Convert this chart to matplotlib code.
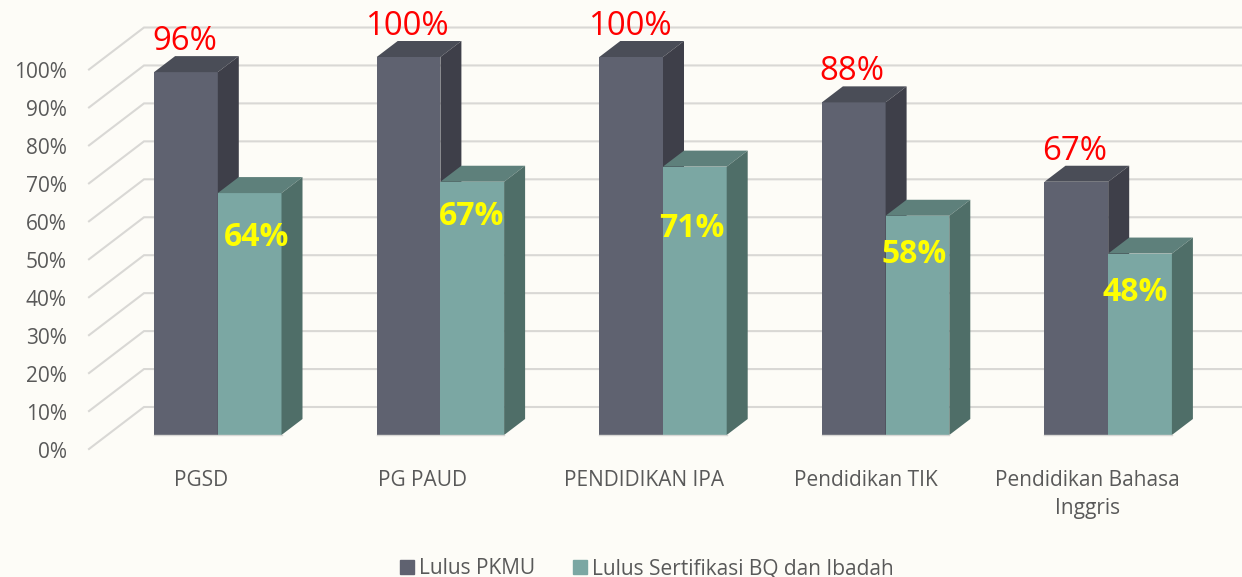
import numpy as np
import matplotlib.pyplot as plt
from matplotlib.patches import Polygon, Patch

plt.rcParams['font.family'] = ['Open Sans', 'DejaVu Sans']

categories = ['PGSD', 'PG PAUD', 'PENDIDIKAN IPA', 'Pendidikan TIK', 'Pendidikan Bahasa\nInggris']
lulus_pkmu = [96, 100, 100, 88, 67]
lulus_bq = [64, 67, 71, 58, 48]
ticks = list(range(0, 101, 10))
series_names = ['Lulus PKMU', 'Lulus Sertifikasi BQ dan Ibadah']

# yellow labels were placed by hand in the original: drop below bar top (percent), shift (px)
yellow_drop = [11.8, 9.3, 16.3, 10.3, 10.3]
yellow_shift = [7, -1, -3, -3.5, -5]

BG = '#FDFCF7'
GRID = '#D9D8D5'
TEXT = '#595959'
DARK = ('#5F6270', '#4A4D57', '#3E3F49')   # front, top, side
TEAL = ('#7BA7A3', '#5E807B', '#4F6E68')

W, H = 1242, 577
STEP = 222.6     # px per category
UNIT = 3.78      # px per percent
X0, Y0 = 217.8, 435  # px of first category, 0%

fig = plt.figure(figsize=(W / 100, H / 100), dpi=100, facecolor=BG)
ax = fig.add_axes([0, 0, 1, 1])
ax.set_xlim(-X0 / STEP, (W - X0) / STEP)
ax.set_ylim((Y0 - H) / UNIT, Y0 / UNIT)
ax.axis('off')

bar_w = 63.7 / STEP
dx = 21 / STEP
dy = 16 / UNIT


def bar3d(x, vals, colors, z):
    ax.bar(x, vals, bar_w, align='edge', color=colors[0], zorder=z)
    for xi, v in zip(x, vals):
        top = [(xi, v), (xi + bar_w, v), (xi + bar_w + dx, v + dy), (xi + dx, v + dy)]
        side = [(xi + bar_w, 0), (xi + bar_w + dx, dy), (xi + bar_w + dx, v + dy), (xi + bar_w, v)]
        ax.add_patch(Polygon(top, color=colors[1], lw=0, zorder=z))
        ax.add_patch(Polygon(side, color=colors[2], lw=0, zorder=z))


# walls: side piece from the tick out to the back plane, then across
wall_x0 = -(X0 - 89) / STEP
wall_x1 = -(X0 - 144) / STEP
front_off = -14 / UNIT
back_off = 28 / UNIT
back_scale = 37.95 / 37.8
for t in ticks:
    yf = t * back_scale + front_off
    yb = t * back_scale + back_off
    ax.plot([wall_x0, wall_x1, ax.get_xlim()[1]], [yf, yb, yb], color=GRID, lw=1.5, zorder=1,
            solid_joinstyle='miter')
    ax.text(wall_x0 - 22 / STEP, yf - 0.8, f'{t}%', ha='right', va='center', fontsize=15, color=TEXT)

x = np.arange(len(categories))
bar3d(x - bar_w, lulus_pkmu, DARK, 2)
bar3d(x, lulus_bq, TEAL, 3)
ax.plot([x - bar_w, x + bar_w], [0, 0], color=GRID, lw=1, zorder=4)

for i, cat in enumerate(categories):
    ax.text(i - (17 + i) / STEP, -9.35, cat, ha='center', va='top', fontsize=15, color=TEXT,
            linespacing=1.42)
    ax.text(i - bar_w / 2 - 1.5 / STEP, lulus_pkmu[i] + 8.1, f'{lulus_pkmu[i]}%', ha='center', va='center',
            fontsize=23.8, color='#FF0000', zorder=5)
    ax.text(i + bar_w / 2 + yellow_shift[i] / STEP, lulus_bq[i] - yellow_drop[i], f'{lulus_bq[i]}%',
            ha='center', va='center', fontsize=23, fontweight='bold', color='#FFFF00', zorder=5)

handles = [Patch(color=DARK[0]), Patch(color=TEAL[0])]
fig.legend(handles, series_names, loc='lower center', bbox_to_anchor=(0.5208, -0.036), ncol=2,
           frameon=False, fontsize=15, labelcolor=TEXT, handlelength=0.67, handleheight=0.67,
           handletextpad=0.24, columnspacing=1.78)

fig.savefig('out.png', dpi=100, facecolor=BG)
